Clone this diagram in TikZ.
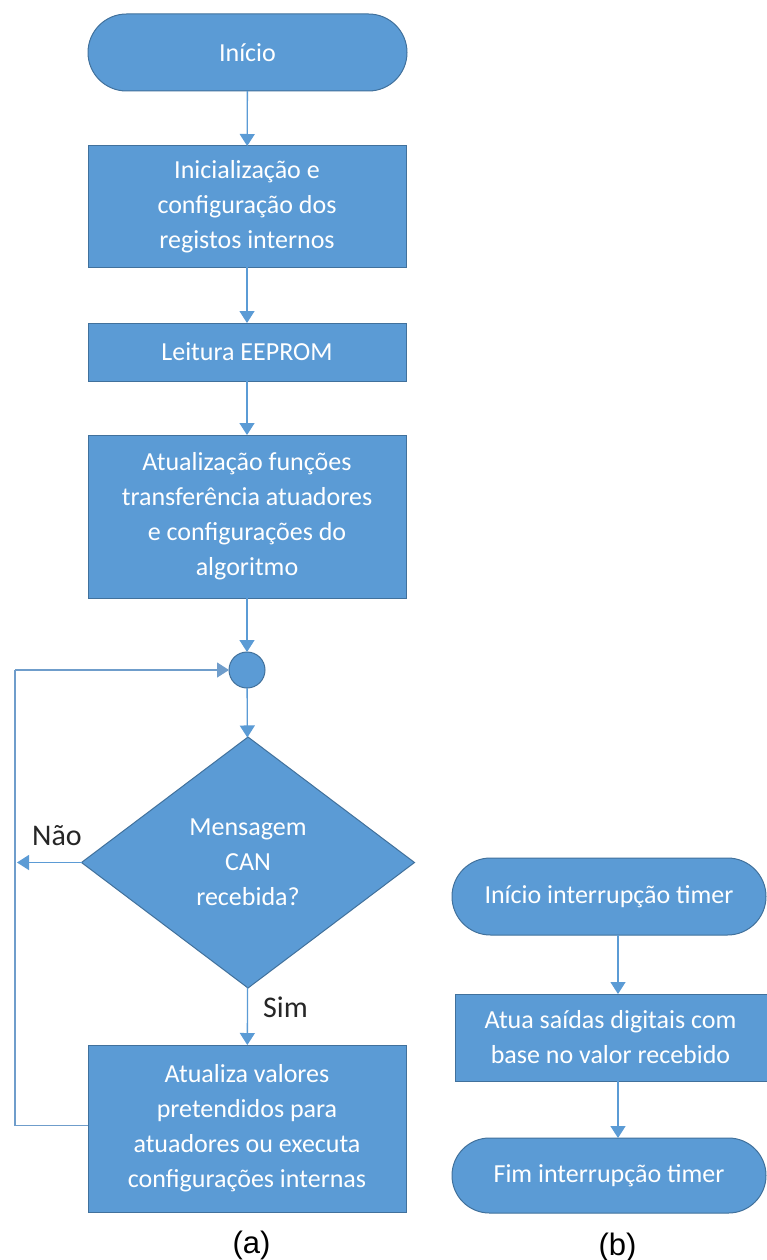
\documentclass[tikz,border=0pt]{standalone}
\usepackage{fontspec}
\setmainfont{Carlito}
\newfontfamily\arialfont{Liberation Sans}
\usetikzlibrary{shapes.geometric,shapes.misc,arrows.meta}
\definecolor{boxfill}{HTML}{5B9BD5}
\definecolor{boxedge}{HTML}{41719C}
\definecolor{connc}{HTML}{5B9BD5}
\definecolor{loopc}{HTML}{6F9DCB}
\definecolor{lbl}{HTML}{262626}
\tikzset{
  shp/.style={fill=boxfill, draw=boxedge, line width=1pt, text=white, inner sep=0pt, outer sep=0pt,
    align=center, font=\fontsize{26}{35}\selectfont},
  procbox/.style={shp, rectangle, minimum width=318pt},
  termbox/.style={shp, rounded rectangle, rounded rectangle arc length=180},
  decbox/.style={shp, diamond, minimum width=333pt, minimum height=251pt},
  joinpt/.style={shp, circle, minimum size=36pt},
  conn/.style={draw=connc, line width=1.3pt, -{Triangle[width=15pt,length=12pt]}},
  loopline/.style={draw=loopc, line width=1.3pt},
  yesno/.style={text=lbl, font=\fontsize{30}{36}\selectfont, inner sep=0pt, anchor=base west},
  sublbl/.style={text=black, font=\arialfont\fontsize{31}{36}\selectfont, inner sep=0pt, anchor=base}
}
\begin{document}
\begin{tikzpicture}[x=1pt,y=-1pt]
\path[use as bounding box] (0,0) rectangle (767,1260);
\clip (0,0) rectangle (767,1260);
\fill[white] (0,0) rectangle (767,1260);
% left column
\node[termbox, minimum width=319pt, minimum height=77pt] (start) at (247.5,52.5) {Início};
\node[procbox, minimum height=121pt] (init) at (247,206.5) {Inicialização e\\configuração dos\\registos internos};
\node[procbox, minimum height=58pt] (eeprom) at (247,352) {Leitura EEPROM};
\node[procbox, minimum height=163pt] (upfun) at (247,516.5) {Atualização funções\\transferência atuadores\\e configurações do\\algoritmo};
\node[joinpt] (circ) at (247,670) {};
\node[decbox] (dec) at (248,862.5) {Mensagem\\CAN\\recebida?};
\node[procbox, minimum height=167pt] (upd) at (247,1128.5) {Atualiza valores\\pretendidos para\\atuadores ou executa\\configurações internas};
\coordinate (loopx) at (15,0);
\draw[conn] (start) -- (init);
\draw[conn] (init) -- (eeprom);
\draw[conn] (eeprom) -- (upfun);
\draw[conn] (upfun) -- (circ);
\draw[conn] (circ) -- (dec);
\draw[conn] (dec) -- (upd);
\draw[conn] (dec.west) -- ([xshift=2pt]dec.west -| loopx);
\draw[loopline] ([yshift=3pt]upd.west) -- ([yshift=3pt]upd.west -| loopx) -- (circ.west -| loopx);
\draw[conn, draw=loopc] (circ.west -| loopx) -- (circ.west);
\node[yesno] (nao) at (32,845) {Não};
\node[yesno] (sim) at (263,1017) {Sim};
\node[sublbl] (la) at (251.5,1253) {(a)};
% right column
\node[termbox, minimum width=314pt, minimum height=77pt] (tstart) at (609,896.5) {Início interrupção timer};
\node[procbox, minimum width=326pt, minimum height=87pt] (act) at (618,1037.5) {\hspace*{-15pt}Atua saídas digitais com\\\hspace*{-15pt}base no valor recebido};
\node[termbox, minimum width=314pt, minimum height=75pt] (tend) at (609,1175.5) {Fim interrupção timer};
\draw[conn] ([xshift=9pt]tstart.south) -- ([xshift=9pt]tstart.south |- act.north);
\draw[conn] (act.south) -- (act.south |- tend.north);
\node[sublbl] (lb) at (617.5,1255) {(b)};
\end{tikzpicture}
\end{document}
